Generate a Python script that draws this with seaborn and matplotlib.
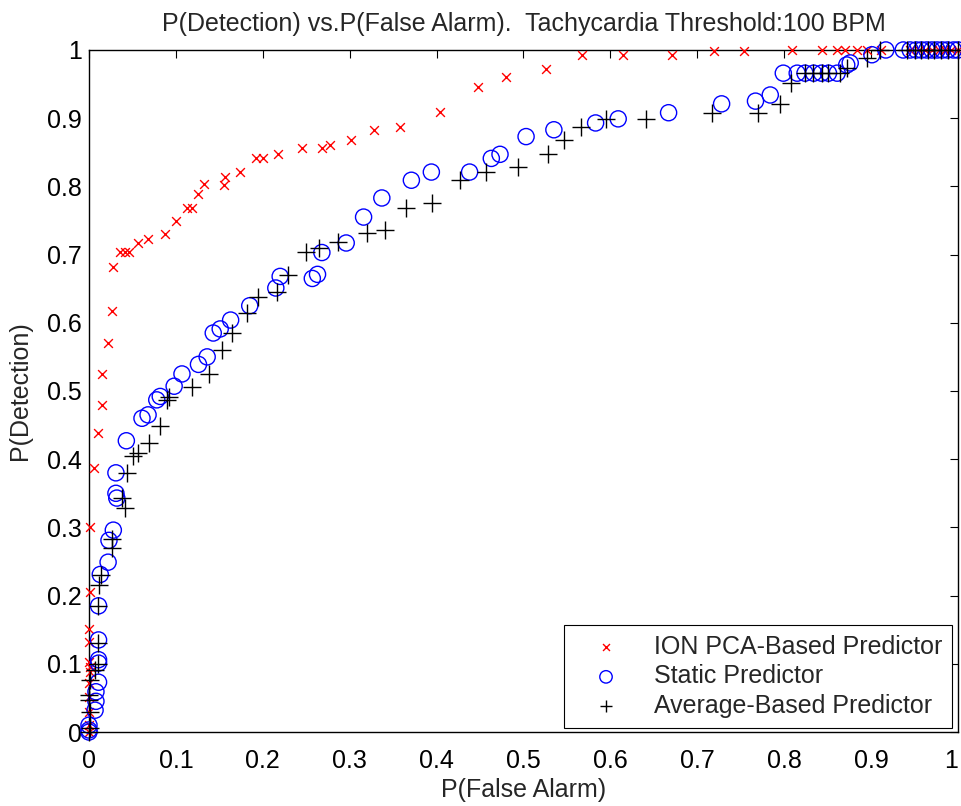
import matplotlib
matplotlib.use("Agg")
import matplotlib.pyplot as plt
import seaborn as sns
import pandas as pd

# ION PCA-Based Predictor
ion_x = [0, 0, 0, 0, 0, 0.001, 0.001, 0, 0, 0, 0.001, 0.001, 0.006, 0.010, 0.015, 0.015,
         0.022, 0.026, 0.028, 0.036, 0.042, 0.046, 0.056, 0.068, 0.087, 0.100, 0.113, 0.118,
         0.125, 0.132, 0.155, 0.157, 0.174, 0.192, 0.200, 0.218, 0.245, 0.268, 0.277, 0.302,
         0.328, 0.358, 0.404, 0.448, 0.480, 0.526, 0.567, 0.615, 0.671, 0.719, 0.754, 0.809,
         0.843, 0.861, 0.870, 0.884, 0.895, 0.912, 0.945, 0.955, 0.962, 0.970, 0.978, 0.985,
         0.992, 1.0]
ion_y = [0, 0.01, 0.03, 0.051, 0.072, 0.088, 0.095, 0.103, 0.132, 0.151, 0.205, 0.300, 0.387,
         0.438, 0.479, 0.525, 0.570, 0.618, 0.682, 0.704, 0.704, 0.704, 0.717, 0.723, 0.730,
         0.749, 0.768, 0.768, 0.789, 0.803, 0.802, 0.814, 0.821, 0.842, 0.842, 0.848, 0.856,
         0.856, 0.861, 0.868, 0.883, 0.887, 0.909, 0.946, 0.961, 0.972, 0.993, 0.993, 0.993,
         0.999, 0.999, 1, 1, 1, 1, 1, 1, 1, 1, 1, 1, 1, 1, 1, 1, 1]

# Static Predictor
sta_x = [0, 0, 0, 0.007, 0.008, 0.008, 0.011, 0.011, 0.011, 0.011, 0.011, 0.013, 0.022, 0.023,
         0.028, 0.032, 0.031, 0.031, 0.043, 0.061, 0.068, 0.078, 0.082, 0.098, 0.107, 0.126,
         0.136, 0.143, 0.151, 0.163, 0.185, 0.215, 0.220, 0.257, 0.263, 0.268, 0.296, 0.316,
         0.337, 0.371, 0.394, 0.438, 0.463, 0.473, 0.503, 0.535, 0.583, 0.609, 0.667, 0.728,
         0.767, 0.784, 0.799, 0.815, 0.824, 0.834, 0.843, 0.851, 0.861, 0.872, 0.876, 0.901,
         0.917, 0.937, 0.945, 0.952, 0.958, 0.964, 0.970, 0.976, 0.982, 0.988, 0.995, 1.0]
sta_y = [0, 0.003, 0.01, 0.032, 0.045, 0.059, 0.073, 0.101, 0.106, 0.135, 0.185, 0.231, 0.249,
         0.281, 0.296, 0.343, 0.350, 0.380, 0.427, 0.460, 0.465, 0.487, 0.492, 0.507, 0.525,
         0.539, 0.550, 0.585, 0.591, 0.604, 0.625, 0.651, 0.668, 0.665, 0.671, 0.703, 0.717,
         0.755, 0.783, 0.809, 0.821, 0.821, 0.841, 0.847, 0.873, 0.883, 0.893, 0.899, 0.908,
         0.921, 0.925, 0.934, 0.966, 0.966, 0.966, 0.966, 0.966, 0.966, 0.966, 0.978, 0.981,
         0.993, 1, 1, 1, 1, 1, 1, 1, 1, 1, 1, 1, 1]

# Average-Based Predictor
avg_x = [0, 0.001, 0.001, 0, 0, 0.001, 0.007, 0.010, 0.010, 0.010, 0.012, 0.014, 0.026, 0.026,
         0.041, 0.038, 0.044, 0.051, 0.056, 0.069, 0.082, 0.090, 0.092, 0.118, 0.138, 0.153,
         0.165, 0.182, 0.195, 0.216, 0.229, 0.250, 0.265, 0.287, 0.320, 0.341, 0.365, 0.395,
         0.427, 0.457, 0.494, 0.528, 0.547, 0.566, 0.595, 0.641, 0.717, 0.770, 0.795, 0.808,
         0.824, 0.833, 0.844, 0.850, 0.864, 0.872, 0.895, 0.910, 0.941, 0.950, 0.958, 0.965,
         0.972, 0.980, 0.988, 1.0]
avg_y = [0, 0.006, 0.03, 0.047, 0.054, 0.076, 0.091, 0.100, 0.130, 0.185, 0.215, 0.230, 0.270,
         0.283, 0.328, 0.343, 0.380, 0.404, 0.409, 0.424, 0.449, 0.487, 0.491, 0.506, 0.525,
         0.560, 0.585, 0.614, 0.638, 0.645, 0.670, 0.704, 0.710, 0.719, 0.732, 0.736, 0.768,
         0.776, 0.809, 0.821, 0.828, 0.847, 0.868, 0.887, 0.899, 0.899, 0.908, 0.908, 0.921,
         0.951, 0.966, 0.966, 0.966, 0.966, 0.966, 0.974, 0.988, 1, 1, 1, 1, 1, 1, 1, 1, 1]

tick_vals = [0, 0.1, 0.2, 0.3, 0.4, 0.5, 0.6, 0.7, 0.8, 0.9, 1]
tick_labels = ["0", "0.1", "0.2", "0.3", "0.4", "0.5", "0.6", "0.7", "0.8", "0.9", "1"]

sns.set_style("white")
plt.rcParams['font.family'] = ['Liberation Sans', 'DejaVu Sans']
FS = 18

fig = plt.figure(figsize=(9.62, 8.06), dpi=100)
ax = fig.add_axes([0.0925, 0.0918, 0.9033, 0.8462])

df_ion = pd.DataFrame({"x": ion_x, "y": ion_y})
df_sta = pd.DataFrame({"x": sta_x, "y": sta_y})
df_avg = pd.DataFrame({"x": avg_x, "y": avg_y})

sns.scatterplot(data=df_ion, x="x", y="y", ax=ax, marker="x", s=40, color="red",
                linewidth=1.0, label="ION PCA-Based Predictor", clip_on=False, zorder=3)
sns.scatterplot(data=df_sta, x="x", y="y", ax=ax, marker="o", s=135, facecolors="none",
                edgecolors="blue", linewidth=1.0, label="Static Predictor", clip_on=False, zorder=3)
sns.scatterplot(data=df_avg, x="x", y="y", ax=ax, marker="+", s=150, color="black",
                linewidth=1.0, label="Average-Based Predictor", clip_on=False, zorder=3)

ax.set_xlim(0, 1)
ax.set_ylim(0, 1)
ax.set_xticks(tick_vals)
ax.set_xticklabels(tick_labels)
ax.set_yticks(tick_vals)
ax.set_yticklabels(tick_labels)
ax.tick_params(direction="in", length=6, width=0.8, top=True, right=True,
               labelsize=FS, colors="black")
ax.tick_params(axis="x", pad=12)
ax.tick_params(axis="y", pad=5)
ax.get_xticklabels()[-1].set_horizontalalignment("right")
for sp in ax.spines.values():
    sp.set_visible(True)
    sp.set_color("black")
    sp.set_linewidth(1.0)

ax.set_xlabel("P(False Alarm)", fontsize=FS, labelpad=4)
ax.set_ylabel("P(Detection)", fontsize=FS, labelpad=11)
ax.set_title("P(Detection) vs.P(False Alarm).  Tachycardia Threshold:100 BPM", fontsize=FS, pad=14)

leg = ax.legend(loc="lower right", bbox_to_anchor=(0.993, 0.006), borderaxespad=0,
                fancybox=False, framealpha=1, edgecolor="black", fontsize=FS,
                handletextpad=0.6, borderpad=0.4, labelspacing=0.22, handlelength=2.6)
leg.get_frame().set_linewidth(0.8)
for h, sz in zip(leg.legend_handles, [25, 80, 80]):
    h.set_sizes([sz])

fig.savefig("out.png", dpi=100, facecolor="white")
